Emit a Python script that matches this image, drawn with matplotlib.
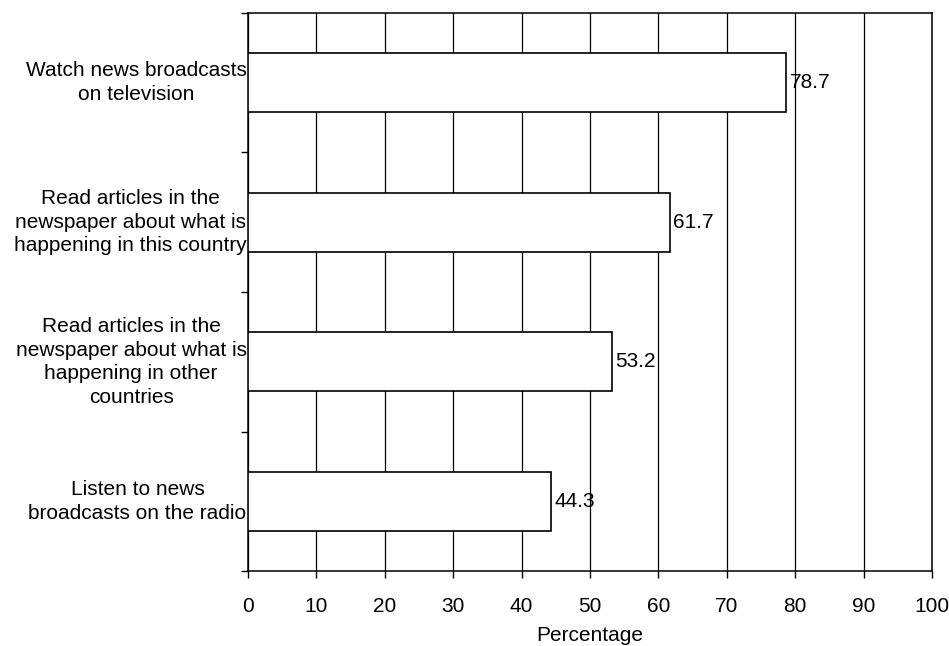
import matplotlib
matplotlib.use("Agg")
import matplotlib.pyplot as plt
from matplotlib.transforms import blended_transform_factory

plt.rcParams['font.family'] = ['Liberation Sans', 'DejaVu Sans']

categories = [
    'Watch news broadcasts\non television',
    'Read articles in the\nnewspaper about what is\nhappening in this country',
    'Read articles in the\nnewspaper about what is\nhappening in other\ncountries',
    'Listen to news\nbroadcasts on the radio',
]
values = [78.7, 61.7, 53.2, 44.3]
x_ticks = list(range(0, 101, 10))

fig = plt.figure(figsize=(9.49, 6.46), dpi=100)
ax = fig.add_axes([0.2613, 0.116, 0.7207, 0.864])

n = len(categories)
ypos = [n - 1 - i + 0.5 for i in range(n)]
ax.barh(ypos, values, height=0.42, color='white', edgecolor='black',
        linewidth=1.2, zorder=3)
for y, v in zip(ypos, values):
    ax.text(v + 0.5, y, f'{v}', va='center', ha='left', fontsize=15, zorder=4)

ax.set_xlim(0, 100)
ax.set_ylim(0, n)
ax.set_xticks(x_ticks)
ax.set_xticklabels([str(t) for t in x_ticks], fontsize=15)
ax.set_yticks(range(n + 1))
ax.set_yticklabels([])
ax.tick_params(axis='both', direction='out', length=5, width=1, color='black')
ax.tick_params(axis='x', pad=14)
ax.xaxis.grid(True, color='black', linewidth=0.9, zorder=0)
ax.set_axisbelow(True)
for s in ax.spines.values():
    s.set_linewidth(1.1)

trans = blended_transform_factory(ax.transAxes, ax.transData)
for y, label in zip(ypos, categories):
    ax.text(-0.002, y, label, ha='right', va='center', fontsize=15,
            multialignment='center', transform=trans, linespacing=1.3,
            clip_on=False)

ax.set_xlabel('Percentage', fontsize=15, labelpad=7)

fig.savefig('out.png', dpi=100)
